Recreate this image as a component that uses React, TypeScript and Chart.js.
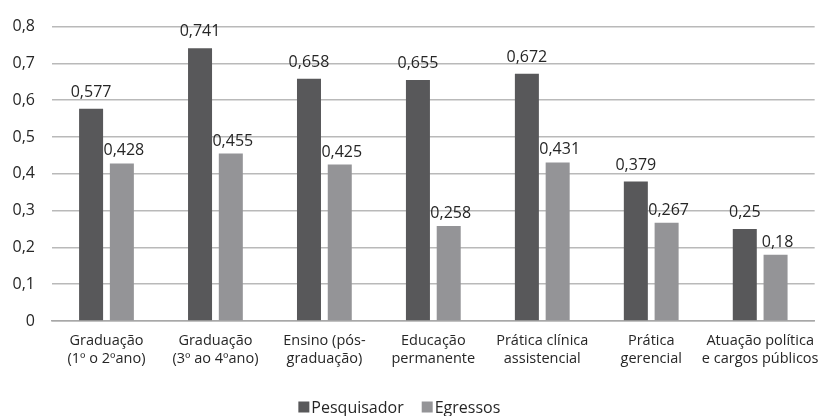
import React, { useEffect, useRef } from "react";
import { Chart, registerables } from "chart.js";

Chart.register(...registerables);

const categories: string[][] = [
  ["Graduação", "(1º o 2ºano)"],
  ["Graduação", "(3º ao 4ºano)"],
  ["Ensino (pós-", "graduação)"],
  ["Educação", "permanente"],
  ["Prática clínica", "assistencial"],
  ["Prática", "gerencial"],
  ["Atuação política", "e cargos públicos"],
];
const pesquisador = [0.577, 0.741, 0.658, 0.655, 0.672, 0.379, 0.25];
const egressos = [0.428, 0.455, 0.425, 0.258, 0.431, 0.267, 0.18];
const seriesNames = ["Pesquisador", "Egressos"];
const yTicks = [0, 0.1, 0.2, 0.3, 0.4, 0.5, 0.6, 0.7, 0.8];

const FONT = "'Open Sans', sans-serif";
const TEXT = "#262626";
const fmt = (v: number) => String(v).replace(".", ",");

const dataLabels = {
  id: "dataLabels",
  afterDatasetsDraw(chart: any) {
    const ctx = chart.ctx;
    ctx.save();
    ctx.font = `16px ${FONT}`;
    ctx.fillStyle = TEXT;
    ctx.textAlign = "center";
    ctx.textBaseline = "alphabetic";
    chart.data.datasets.forEach((ds: any, di: number) => {
      const meta = chart.getDatasetMeta(di);
      meta.data.forEach((el: any, i: number) => {
        const dx = di === 1 ? 2 : 0;
        const dy = di === 0 ? 12 : 8;
        ctx.fillText(fmt(ds.data[i]), el.x + dx, el.y - dy);
      });
    });
    ctx.restore();
  },
};

const customLegend = {
  id: "customLegend",
  afterDraw(chart: any) {
    const ctx = chart.ctx;
    const ca = chart.chartArea;
    ctx.save();
    ctx.font = `16px ${FONT}`;
    ctx.textBaseline = "middle";
    ctx.textAlign = "left";
    const box = 11;
    const gap = 2;
    const itemGap = 18;
    const items = chart.data.datasets.map((ds: any) => ({
      label: ds.label,
      color: ds.backgroundColor,
      w: box + gap + ctx.measureText(ds.label).width,
    }));
    const total = items.reduce((s: number, it: any) => s + it.w, 0) + itemGap * (items.length - 1);
    let x = (ca.left + ca.right) / 2 - 34 - total / 2;
    const y = chart.height - 9;
    items.forEach((it: any) => {
      ctx.fillStyle = it.color;
      ctx.fillRect(x, y - box / 2, box, box);
      ctx.fillStyle = TEXT;
      ctx.fillText(it.label, x + box + gap, y + 1);
      x += it.w + itemGap;
    });
    ctx.restore();
  },
};

export default function App() {
  const ref = useRef<HTMLCanvasElement>(null);
  useEffect(() => {
    document.body.style.margin = "0";
    const chart = new Chart(ref.current!, {
      type: "bar",
      data: {
        labels: categories,
        datasets: [
          { label: seriesNames[0], data: pesquisador, backgroundColor: "#58585a" },
          { label: seriesNames[1], data: egressos, backgroundColor: "#949497" },
        ],
      },
      options: {
        animation: false,
        responsive: false,
        maintainAspectRatio: false,
        layout: { padding: { top: 22, right: 7, left: 0, bottom: 0 } },
        datasets: {
          bar: { categoryPercentage: 0.565, barPercentage: 0.78 },
        },
        plugins: {
          legend: { display: false },
          tooltip: { enabled: false },
        },
        scales: {
          x: {
            grid: { display: false, drawTicks: false },
            border: { display: true, color: "#a8a8a8", width: 1.5 },
            ticks: {
              padding: 11,
              color: TEXT,
              font: { family: FONT, size: 14.5, lineHeight: 1.22 },
              maxRotation: 0,
              autoSkip: false,
            },
            afterFit: (s: any) => {
              s.height = 95;
            },
          },
          y: {
            min: 0,
            max: 0.8,
            afterBuildTicks: (s: any) => {
              s.ticks = yTicks.map((v) => ({ value: v }));
            },
            grid: { color: "#b9b9b9", lineWidth: 1.5, drawTicks: false },
            border: { display: false },
            ticks: {
              padding: 17,
              color: TEXT,
              font: { family: FONT, size: 16 },
              callback: (v: any) => fmt(Math.round(Number(v) * 10) / 10),
            },
            afterFit: (s: any) => {
              s.width = 52;
            },
          },
        },
      },
      plugins: [dataLabels, customLegend],
    });
    return () => chart.destroy();
  }, []);
  return (
    <div style={{ width: 830, height: 416 }}>
      <canvas ref={ref} width={830} height={416} style={{ display: "block" }} />
    </div>
  );
}
